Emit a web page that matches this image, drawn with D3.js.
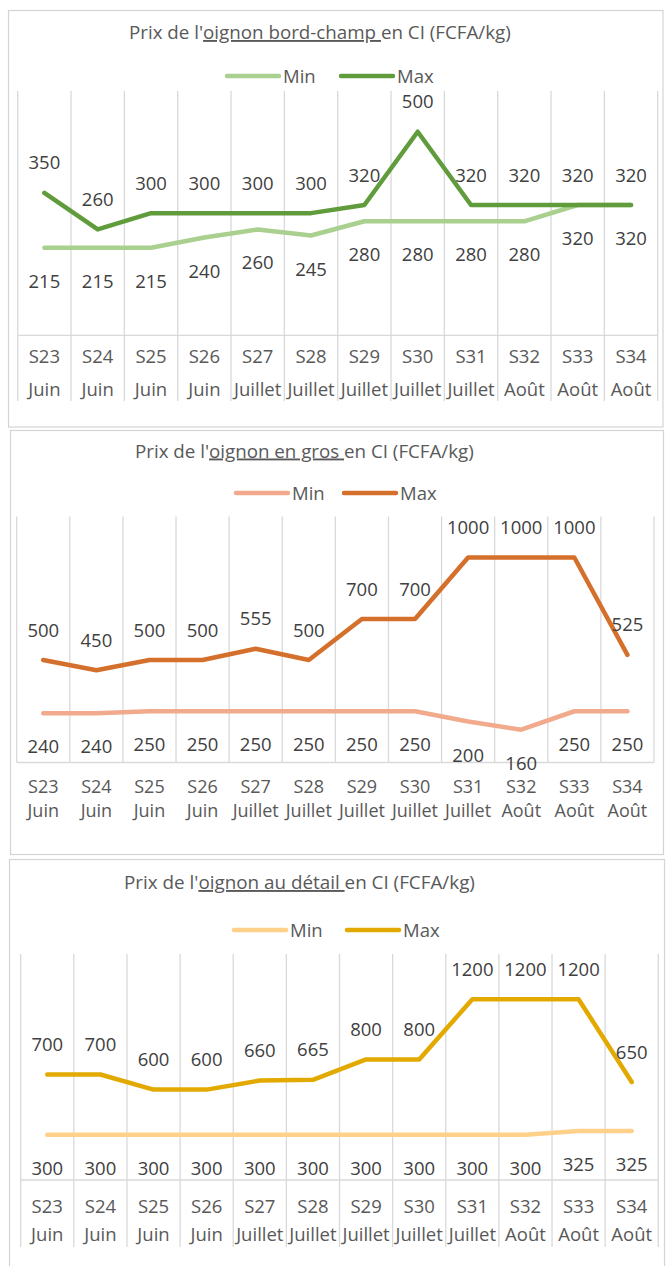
<!DOCTYPE html>
<html>
<head>
<meta charset="utf-8">
<script src="https://cdn.jsdelivr.net/npm/d3@7"></script>
<style>
  body { margin: 0; background: #fff; }
  text { font-family: "Open Sans", "Noto Sans", sans-serif; }
</style>
</head>
<body>
<script>
// semaines et mois (axe à deux niveaux)
var weeks = ["S23", "S24", "S25", "S26", "S27", "S28", "S29", "S30", "S31", "S32", "S33", "S34"];
var months = ["Juin", "Juin", "Juin", "Juin", "Juillet", "Juillet", "Juillet", "Juillet", "Juillet", "Août", "Août", "Août"];

// prix bord-champ
var champMin = [215, 215, 215, 240, 260, 245, 280, 280, 280, 280, 320, 320];
var champMax = [350, 260, 300, 300, 300, 300, 320, 500, 320, 320, 320, 320];
// prix en gros
var grosMin = [240, 240, 250, 250, 250, 250, 250, 250, 200, 160, 250, 250];
var grosMax = [500, 450, 500, 500, 555, 500, 700, 700, 1000, 1000, 1000, 525];
// prix au détail
var detailMin = [300, 300, 300, 300, 300, 300, 300, 300, 300, 300, 325, 325];
var detailMax = [700, 700, 600, 600, 660, 665, 800, 800, 1200, 1200, 1200, 650];

var seriesNames = ["Min", "Max"];

var W = 671, H = 1266;
var svg = d3.select("body").append("svg").attr("width", W).attr("height", H);

var panels = [
  { title: ["Prix de l'", "oignon bord-champ ", "en CI (FCFA/kg)"], titleX: 129, titleW: 382, titleY: 39,
    box: [8.5, 10.5, 654.5, 416.5], legendY: 76, legendX: [225, 339],
    min: champMin, max: champMax, cMin: "#A9D08E", cMax: "#609C3C",
    yMax: 600, x0: 17.7, x1: 657.7, yTop: 91, yBot: 335.3, split: true, gridBottom: 401,
    rows: [356, 389], axisFont: 18.5 },
  { title: ["Prix de l'", "oignon en gros ", "en CI (FCFA/kg)"], titleX: 135, titleW: 339, titleY: 457.5,
    box: [10.5, 430.5, 653, 424], legendY: 493, legendX: [234, 342],
    min: grosMin, max: grosMax, cMin: "#F2AA8C", cMax: "#D5702C",
    yMax: 1200, x0: 16.7, x1: 654, yTop: 516.5, yBot: 762.5, split: false,
    rows: [786, 810], axisFont: 18 },
  { title: ["Prix de l'", "oignon au détail ", "en CI (FCFA/kg)"], titleX: 124, titleW: 351, titleY: 889,
    box: [9.5, 859.5, 655, 420], legendY: 930, legendX: [232, 345],
    min: detailMin, max: detailMax, cMin: "#FFD08A", cMax: "#E2AA00",
    yMax: 1500, x0: 20.7, x1: 658.3, yTop: 954, yBot: 1180, split: true, gridBottom: 1247,
    rows: [1206, 1234], axisFont: 18.5 }
];

panels.forEach(function(p) {
  var g = svg.append("g");

  // cadre
  g.append("rect")
    .attr("x", p.box[0]).attr("y", p.box[1])
    .attr("width", p.box[2]).attr("height", p.box[3])
    .attr("fill", "#fff").attr("stroke", "#d4d4d4").attr("stroke-width", 1.2);

  // titre avec partie soulignée
  var t = g.append("text")
    .attr("x", p.titleX).attr("y", p.titleY)
    .attr("fill", "#595959").style("font-size", "17px");
  t.append("tspan").text(p.title[0]);
  t.append("tspan").text(p.title[1]).style("text-decoration", "underline");
  t.append("tspan").text(p.title[2]);
  var tw = t.node().getComputedTextLength();
  t.style("font-size", (17 * p.titleW / tw) + "px");

  // légende
  var colors = [p.cMin, p.cMax];
  seriesNames.forEach(function(name, i) {
    var lx = p.legendX[i];
    g.append("line")
      .attr("x1", lx + 2).attr("x2", lx + 54)
      .attr("y1", p.legendY).attr("y2", p.legendY)
      .attr("stroke", colors[i]).attr("stroke-width", 4.5).attr("stroke-linecap", "round");
    g.append("text")
      .attr("x", lx + 58).attr("y", p.legendY + 6.5)
      .attr("fill", "#595959").style("font-size", "18.5px")
      .text(name);
  });

  var x = d3.scaleBand().domain(weeks).range([p.x0, p.x1]).padding(0);
  var y = d3.scaleLinear().domain([0, p.yMax]).range([p.yBot, p.yTop]);

  // quadrillage vertical entre catégories
  var edges = weeks.map(function(w) { return x(w); }).concat([p.x1]);
  var gb = p.split ? p.gridBottom : p.yBot;
  g.selectAll(".grid").data(edges).enter().append("line")
    .attr("x1", function(d) { return d; }).attr("x2", function(d) { return d; })
    .attr("y1", p.yTop).attr("y2", gb)
    .attr("stroke", "#d9d9d9").attr("stroke-width", 1.3);

  // ligne de l'axe
  g.append("line")
    .attr("x1", p.x0).attr("x2", p.x1)
    .attr("y1", y(0)).attr("y2", y(0))
    .attr("stroke", "#d9d9d9").attr("stroke-width", 1.3);

  // étiquettes de l'axe (deux niveaux)
  var axWeeks = d3.axisBottom(x).tickSize(0).tickPadding(0);
  var gw = g.append("g").attr("transform", "translate(0," + (p.rows[0] + 6.5) + ")").call(axWeeks);
  var axMonths = d3.axisBottom(x).tickSize(0).tickPadding(0)
    .tickFormat(function(d, i) { return months[i]; });
  var gm = g.append("g").attr("transform", "translate(0," + (p.rows[1] + 6.5) + ")").call(axMonths);
  [gw, gm].forEach(function(a) {
    a.select(".domain").remove();
    a.selectAll("text")
      .attr("y", 0).attr("dy", null)
      .attr("fill", "#595959")
      .style("font-size", p.axisFont + "px")
      .style("font-family", "'Open Sans', sans-serif");
  });

  var line = d3.line()
    .x(function(d, i) { return x(weeks[i]) + x.bandwidth() / 2; })
    .y(function(d) { return y(d); });

  // séries
  [[p.min, p.cMin], [p.max, p.cMax]].forEach(function(s) {
    g.append("path")
      .datum(s[0])
      .attr("d", line)
      .attr("fill", "none")
      .attr("stroke", s[1])
      .attr("stroke-width", 4.5)
      .attr("stroke-linejoin", "round")
      .attr("stroke-linecap", "round");
  });

  // étiquettes de données
  g.selectAll(".lblMax").data(p.max).enter().append("text")
    .attr("x", function(d, i) { return x(weeks[i]) + x.bandwidth() / 2; })
    .attr("y", function(d) { return y(d) - 23.5; })
    .attr("text-anchor", "middle")
    .attr("fill", "#404040").style("font-size", "18.5px")
    .text(function(d) { return d; });
  g.selectAll(".lblMin").data(p.min).enter().append("text")
    .attr("x", function(d, i) { return x(weeks[i]) + x.bandwidth() / 2; })
    .attr("y", function(d) { return y(d) + 40; })
    .attr("text-anchor", "middle")
    .attr("fill", "#404040").style("font-size", "18.5px")
    .text(function(d) { return d; });
});
</script>
</body>
</html>
